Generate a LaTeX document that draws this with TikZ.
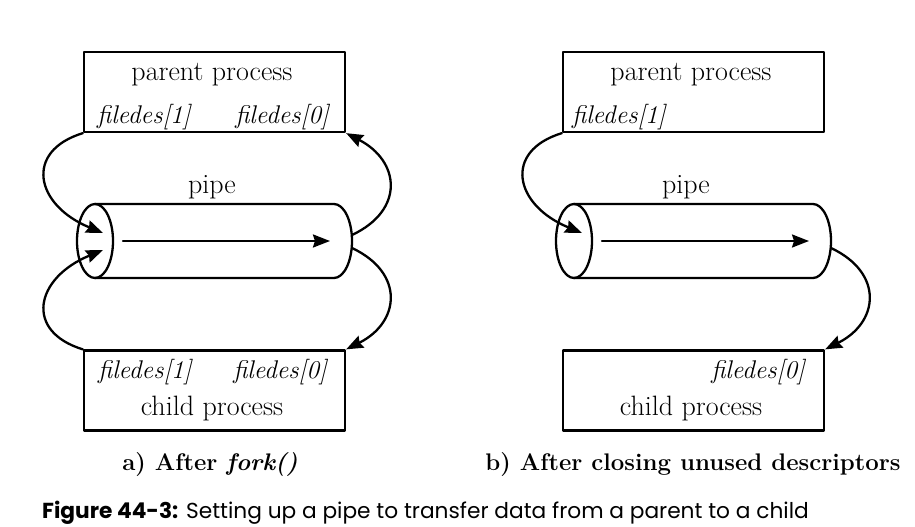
\documentclass[tikz,border=0pt]{standalone}
\usepackage{fontspec}
\newfontfamily\figfont{Poppins}
\usetikzlibrary{arrows.meta}
\newcommand\boxfont{\fontsize{28pt}{32pt}\selectfont}
\newcommand\fdfont{\fontsize{25.6pt}{30pt}\selectfont\itshape}
\newcommand\subfont{\fontsize{24pt}{28pt}\selectfont\bfseries}
\tikzset{
  procbox/.style={draw, line width=2.3pt, minimum width=261pt, minimum height=80pt, inner sep=0pt},
  flow/.style={line width=2.3pt, -{Stealth[length=17pt,width=13pt,inset=2pt]}},
  lbl/.style={inner sep=0pt, font=\boxfont},
  fd/.style={inner sep=0pt, font=\fdfont},
}
\begin{document}
\begin{tikzpicture}[x=1pt, y=-1pt, line cap=round, line join=round]
\useasboundingbox (0,0) rectangle (915,527);
\foreach \p/\dx/\px in {a/0/212, b/479/686}{
  \node[procbox] (parent-\p) at (214.5+\dx,92) {};
  \node[procbox] (child-\p) at (214.5+\dx,390.5) {};
  \node[lbl, anchor=base] at (212+\dx,80) {parent process};
  \node[lbl, anchor=base] at (212+\dx,415) {child process};
  \node[lbl, anchor=base] at (\px,193) {pipe};
  \draw[line width=2.3pt] (95+\dx,204) -- (334+\dx,204) arc[start angle=-90, end angle=90, x radius=18, y radius=37] -- (95+\dx,278);
  \draw[line width=2.3pt] (95+\dx,241) ellipse [x radius=18, y radius=37];
  \draw[flow] (123+\dx,241) -- (330+\dx,241);
  \coordinate (in1-\p) at (103+\dx,233);
  \coordinate (in2-\p) at (103+\dx,250);
  \coordinate (out1-\p) at (352+\dx,235);
  \coordinate (out2-\p) at (352+\dx,248);
}
\node[fd, anchor=base west] at (97,123) {filedes[1]};
\node[fd, anchor=base east] at (329,123) {filedes[0]};
\node[fd, anchor=base west] at (98,378) {filedes[1]};
\node[fd, anchor=base east] at (327,378) {filedes[0]};
\node[fd, anchor=base west] at (572,123) {filedes[1]};
\node[fd, anchor=base east] at (805,378) {filedes[0]};
\draw[flow] (parent-a.south west) .. controls +(-59,18) and +(-68,-28) .. (in1-a);
\draw[flow] (child-a.north west) .. controls +(-59,-18) and +(-68,28) .. (in2-a);
\draw[flow] (out1-a) .. controls +(53,-25) and +(54,28) .. (parent-a.south east);
\draw[flow] (out2-a) .. controls +(53,25) and +(54,-27) .. (child-a.north east);
\draw[flow] (parent-b.south west) .. controls +(-59,18) and +(-68,-28) .. (in1-b);
\draw[flow] (out2-b) .. controls +(53,25) and +(54,-27) .. (child-b.north east);
\node[anchor=base, inner sep=0pt, font=\subfont] (cap-a) at (210,470) {a) After \textit{fork()}};
\node[anchor=base, inner sep=0pt, font=\subfont] (cap-b) at (693,470) {b) After closing unused descriptors};
\node[anchor=base west, inner sep=0pt, font=\figfont\fontsize{21.7pt}{25pt}\selectfont] (figcap) at (42,518) {\textbf{Figure 44-3:} Setting up a pipe to transfer data from a parent to a child};
\end{tikzpicture}
\end{document}
